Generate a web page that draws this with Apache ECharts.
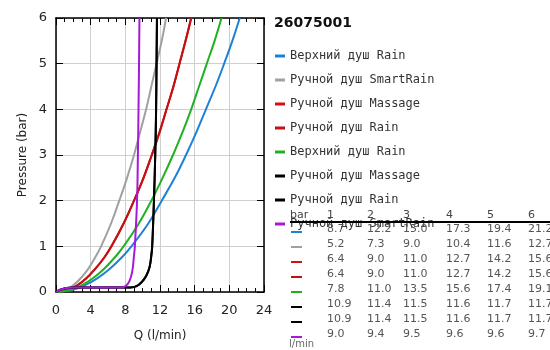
<!DOCTYPE html>
<html>
<head>
<meta charset="utf-8">
<script src="https://cdn.jsdelivr.net/npm/echarts@6/dist/echarts.min.js"></script>
<style>
  html, body { margin: 0; padding: 0; background: #fff; }
  #chart { width: 550px; height: 350px; }
</style>
</head>
<body>
<div id="chart"></div>
<script>
// pressure levels (bar) for the smooth curves
var pLevels = [0, 0.05, 0.15, 0.3, 0.5, 0.75, 1, 1.5, 2, 2.5, 3, 3.5, 4, 4.5, 5, 5.5, 6];

// flow (l/min) at each pressure level
var blueQ  = [0, 1.95, 3.35, 4.75, 6.15, 7.55, 8.7, 10.65, 12.2, 13.7, 15.0, 16.2, 17.3, 18.4, 19.4, 20.35, 21.2];
var grayQ  = [0, 1.15, 2.0, 2.85, 3.7, 4.5, 5.2, 6.35, 7.3, 8.2, 9.0, 9.7, 10.4, 11.0, 11.6, 12.2, 12.7];
var redQ   = [0, 1.45, 2.5, 3.5, 4.5, 5.55, 6.4, 7.8, 9.0, 10.1, 11.05, 11.95, 12.75, 13.55, 14.25, 14.95, 15.6];
var greenQ = [0, 1.75, 3.0, 4.25, 5.5, 6.75, 7.8, 9.55, 11.0, 12.3, 13.5, 14.6, 15.6, 16.5, 17.4, 18.3, 19.1];

// limited-flow curves (black, purple) with their own points
var blackQ = [0, 0.5, 1.2, 2, 8.6, 9.3, 9.9, 10.4, 10.8, 11.0, 11.1, 11.3, 11.45, 11.55, 11.6, 11.65];
var blackP = [0, 0.05, 0.09, 0.1, 0.1, 0.13, 0.22, 0.35, 0.55, 0.8, 1, 2, 3, 4, 5, 6];
var purpleQ = [0, 0.5, 1.2, 2, 7.6, 8.1, 8.5, 8.8, 9.0, 9.1, 9.35, 9.45, 9.52, 9.58, 9.63];
var purpleP = [0, 0.05, 0.09, 0.1, 0.1, 0.14, 0.25, 0.45, 0.8, 1, 2, 3, 4, 5, 6];

var legendNames = [
  'Верхний душ Rain', 'Ручной душ SmartRain', 'Ручной душ Massage', 'Ручной душ Rain',
  'Верхний душ Rain', 'Ручной душ Massage', 'Ручной душ Rain', 'Ручной душ SmartRain'
];
var colors = ['#1f80d8', '#a0a0a0', '#d01414', '#c41010', '#22b022', '#000000', '#000000', '#a818d8'];

// table under the legend
var tableHead = ['bar', '1', '2', '3', '4', '5', '6'];
var tableRows = [
  ['8.7', '12.2', '15.0', '17.3', '19.4', '21.2'],
  ['5.2', '7.3', '9.0', '10.4', '11.6', '12.7'],
  ['6.4', '9.0', '11.0', '12.7', '14.2', '15.6'],
  ['6.4', '9.0', '11.0', '12.7', '14.2', '15.6'],
  ['7.8', '11.0', '13.5', '15.6', '17.4', '19.1'],
  ['10.9', '11.4', '11.5', '11.6', '11.7', '11.7'],
  ['10.9', '11.4', '11.5', '11.6', '11.7', '11.7'],
  ['9.0', '9.4', '9.5', '9.6', '9.6', '9.7']
];

var zip = function (qs, ps) {
  var i, out = [];
  for (i = 0; i < qs.length; i++) { out.push([qs[i], ps[i]]); }
  return out;
};

var curves = [
  zip(blueQ, pLevels), zip(grayQ, pLevels), zip(redQ, pLevels), zip(redQ, pLevels),
  zip(greenQ, pLevels), zip(blackQ, blackP), zip(blackQ, blackP), zip(purpleQ, purpleP)
];

var myChart = echarts.init(document.getElementById('chart'));

var series = [], legendData = [], nameMap = {};
curves.forEach(function (d, i) {
  var id = 's' + i;
  nameMap[id] = legendNames[i];
  legendData.push(id);
  series.push({
    name: id,
    type: 'line',
    data: d,
    smooth: 0.4,
    showSymbol: false,
    color: colors[i],
    lineStyle: { width: 2, color: colors[i] },
    z: 2 + i,
    animation: false
  });
});

// table graphics
var colX = [290, 327, 367, 403, 446, 487, 528];
var rowY = [230, 245, 260, 275, 290, 305, 320, 335];
var graphics = [];
tableHead.forEach(function (t, j) {
  graphics.push({ type: 'text', left: colX[j], top: 210, z: 20,
    style: { text: t, font: '11px "DejaVu Sans"', fill: '#444' } });
});
graphics.push({ type: 'rect', shape: { x: 290, y: 221, width: 260, height: 2 }, z: 21,
  style: { fill: '#000' } });
tableRows.forEach(function (row, i) {
  graphics.push({ type: 'rect', shape: { x: 291, y: rowY[i] + 1, width: 11, height: 2 }, z: 20,
    style: { fill: colors[i] } });
  row.forEach(function (v, j) {
    graphics.push({ type: 'text', left: colX[j + 1], top: rowY[i] - 6, z: 20,
      style: { text: v, font: '11px "DejaVu Sans"', fill: '#555' } });
  });
});
graphics.push({ type: 'text', left: 289, top: 339, z: 20,
  style: { text: 'l/min', font: '10px "DejaVu Sans"', fill: '#666' } });

var axisLineCfg = { show: true, onZero: false, lineStyle: { color: '#000', width: 1.5 } };
var tickCfg = { show: true, inside: true, length: 7, lineStyle: { color: '#000', width: 1 } };
var minorCfg = { show: true, splitNumber: 4, length: 4, lineStyle: { color: '#000', width: 1 } };
var noMinor = { show: false };

var option = {
  animation: false,
  title: {
    text: '26075001', left: 269, top: 11,
    textStyle: { fontFamily: 'DejaVu Sans', fontWeight: 'bold', fontSize: 14, color: '#111' }
  },
  legend: {
    orient: 'vertical', left: 270, top: 44,
    data: legendData,
    icon: 'rect', itemWidth: 10, itemHeight: 3, itemGap: 10,
    formatter: function (name) { return nameMap[name]; },
    textStyle: { fontFamily: 'DejaVu Sans Mono', fontSize: 12, color: '#333', lineHeight: 14 }
  },
  grid: { left: 56, right: 286, top: 18, bottom: 58 },
  xAxis: [
    {
      type: 'value', min: 0, max: 24, interval: 4,
      name: 'Q (l/min)', nameLocation: 'middle', nameGap: 38,
      nameTextStyle: { fontFamily: 'DejaVu Sans', fontSize: 12, color: '#222' },
      axisLine: axisLineCfg, axisTick: tickCfg, minorTick: minorCfg,
      axisLabel: { fontFamily: 'DejaVu Sans', fontSize: 13, color: '#222', margin: 12 },
      splitLine: { show: true, lineStyle: { color: '#cfcfcf', width: 1 } }
    },
    {
      type: 'value', min: 0, max: 24, interval: 4, position: 'top',
      axisLine: axisLineCfg, axisTick: tickCfg, minorTick: minorCfg,
      axisLabel: { show: false }, splitLine: { show: false }
    }
  ],
  yAxis: [
    {
      type: 'value', min: 0, max: 6, interval: 1,
      name: 'Pressure (bar)', nameLocation: 'middle', nameGap: 27,
      nameTextStyle: { fontFamily: 'DejaVu Sans', fontSize: 12, color: '#222' },
      axisLine: axisLineCfg, axisTick: tickCfg, minorTick: noMinor,
      axisLabel: { fontFamily: 'DejaVu Sans', fontSize: 13, color: '#222', margin: 9 },
      splitLine: { show: true, lineStyle: { color: '#cfcfcf', width: 1 } }
    },
    {
      type: 'value', min: 0, max: 6, interval: 1, position: 'right',
      axisLine: axisLineCfg, axisTick: tickCfg, minorTick: noMinor,
      axisLabel: { show: false }, splitLine: { show: false }
    }
  ],
  series: series,
  graphic: graphics
};

myChart.setOption(option);
</script>
</body>
</html>
